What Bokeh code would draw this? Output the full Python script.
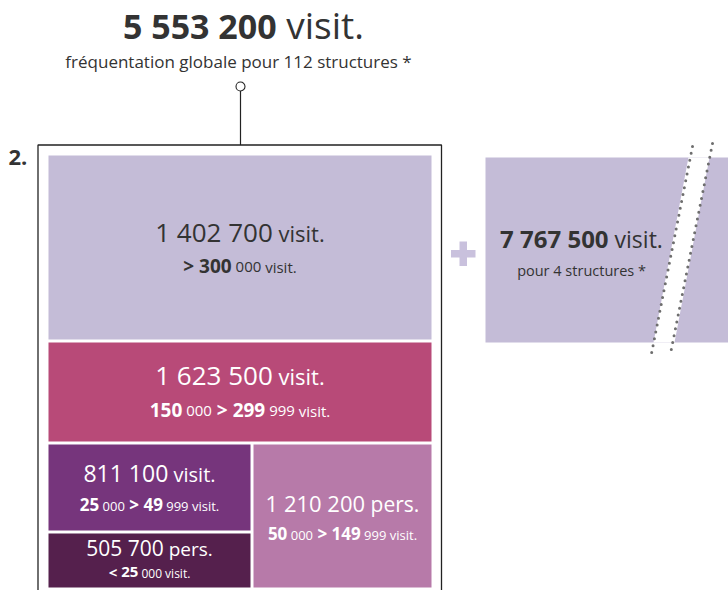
from bokeh.plotting import figure
from bokeh.models import Range1d, ColumnDataSource
from bokeh.core.properties import value
from bokeh.embed import file_html
from bokeh.resources import INLINE

# ---------------- data ----------------
total_visits = 5553200
total_structures = 112
extra_visits = 7767500
extra_structures = 4
section_label = "2."

tile_values = [1402700, 1623500, 811100, 505700, 1210200]
tile_units = ["visit.", "visit.", "visit.", "pers.", "pers."]
range_low = [300000, 150000, 25000, None, 50000]
range_high = [None, 299999, 49999, 25000, 149999]

# ---------------- layout / style (page pixels) ----------------
tile_x0 = [48, 48, 48, 48, 253]
tile_x1 = [431, 431, 250, 250, 431]
tile_y0 = [155, 342, 444, 533, 444]
tile_y1 = [339, 441, 530, 587, 587]
tile_colors = ["#c4bcd7", "#b84a78", "#76357c", "#55204d", "#b77aa9"]
text_colors = ["#333333", "#ffffff", "#ffffff", "#ffffff", "#ffffff"]
main_size = [26, 26, 23, 21, 22]
unit_size = [22, 22, 20, 19, 21]
range_bold = [19, 19, 17, 15, 17]
range_small = [15, 15, 13, 12, 13]
main_base = [242, 385, 482, 556, 512]
range_base = [273, 417, 511, 578, 540]

FONT = "Open Sans"
BASE_K = 0.42  # empirical shift so that the given y is the alphabetic baseline
W_REG = {" ": 532, ".": 545, "*": 1120, "<": 1171, ">": 1171, "a": 1139, "b": 1255,
         "c": 975, "d": 1255, "e": 1149, "f": 694, "g": 1122, "i": 518, "l": 518,
         "n": 1257, "o": 1237, "p": 1255, "q": 1255, "r": 836, "s": 977, "t": 723,
         "u": 1257, "v": 1026, "é": 1149}
W_BOLD = {" ": 532, ".": 586, "<": 1171, ">": 1171, "v": 1128, "i": 620, "s": 1016,
          "t": 776, "p": 1300, "e": 1200, "r": 920}
for d in "0123456789":
    W_REG[d] = 1171
    W_BOLD[d] = 1171


def tw(s, size, bold):
    tbl = W_BOLD if bold else W_REG
    return sum(tbl.get(c, 1150) for c in s) / 2048.0 * size


def fmt(n):
    return f"{n:,}".replace(",", " ")


pieces = dict(x=[], y=[], text=[], size=[], style=[], color=[])


def put(parts, cx, base, color, align="center"):
    total = sum(tw(t, s, b) for t, s, b in parts)
    x = cx - total / 2.0 if align == "center" else cx
    for t, s, b in parts:
        core = t.strip(" ")
        lead = len(t) - len(t.lstrip(" "))
        x += tw(" " * lead, s, b)
        pieces["x"].append(x)
        pieces["y"].append(base - BASE_K * s)
        pieces["text"].append(core)
        pieces["size"].append(f"{s}px")
        pieces["style"].append("bold" if b else "normal")
        pieces["color"].append(color)
        x += tw(t[lead:], s, b)


def bound_parts(n, bs, ss):
    return [(fmt(n // 1000), bs, True), (" " + f"{n % 1000:03d}", ss, False)]


p = figure(width=728, height=590, x_range=Range1d(0, 728), y_range=Range1d(590, 0),
           output_backend="svg", toolbar_location=None, min_border=0)
p.axis.visible = False
p.grid.visible = False
p.outline_line_color = None
p.background_fill_color = "white"
p.border_fill_color = "white"

# connector + frame
p.segment(x0=[240], y0=[90.5], x1=[240], y1=[144.5], line_color="#222222", line_width=1.2)
p.multi_line(xs=[[37.5, 37.5, 441, 441]], ys=[[600, 144.5, 144.5, 600]],
             line_color="#222222", line_width=1.3)
p.scatter(x=[240], y=[86], size=9, marker="circle", fill_color="white",
          line_color="#222222", line_width=1.1)

# tiles
p.quad(left=tile_x0, right=tile_x1, top=tile_y0, bottom=tile_y1,
       fill_color=tile_colors, line_color=None)

for i, v in enumerate(tile_values):
    cx = (tile_x0[i] + tile_x1[i]) / 2.0
    put([(fmt(v), main_size[i], False), (" " + tile_units[i], unit_size[i], False)],
        cx, main_base[i], text_colors[i])
    bs, ss = range_bold[i], range_small[i]
    lo, hi = range_low[i], range_high[i]
    if hi is None:
        parts = [("> ", bs, True)] + bound_parts(lo, bs, ss)
    elif lo is None:
        parts = [("< ", bs, True)] + bound_parts(hi, bs, ss)
    else:
        parts = bound_parts(lo, bs, ss) + [(" > ", bs, True)] + bound_parts(hi, bs, ss)
    parts = parts + [(" visit.", ss, False)]
    put(parts, cx, range_base[i], text_colors[i])

# right tile (4 big structures)
p.quad(left=[485], right=[740], top=[157], bottom=[342], fill_color="#c4bcd7", line_color=None)
p.patch(x=[688, 709, 674, 653], y=[157, 157, 342, 342], fill_color="white", line_color=None)
p.multi_line(xs=[[692, 650], [712, 670]], ys=[[146, 358], [143, 353]], line_color="#6e6e6e",
             line_width=3, line_dash="0 7", line_cap="round")
# plus sign
p.quad(left=[450.5, 459], right=[475, 466.5], top=[249.5, 241], bottom=[257, 265.5],
       fill_color="#c9c1dd", line_color=None)

put([(fmt(extra_visits), 24, True), (" visit.", 23, False)], 581, 248, "#333333")
put([(f"pour {extra_structures} structures *", 14.5, False)], 581, 276, "#333333")

# title
put([(fmt(total_visits), 34, True), (" visit.", 37, False)], 243, 40, "#333333")
put([(f"fréquentation globale pour {total_structures} structures *", 17, False)], 238, 68, "#333333")

# section number
put([(section_label, 22, True)], 8, 166, "#333333", align="left")

src = ColumnDataSource(pieces)
p.text(x="x", y="y", text="text", source=src, text_font=value(FONT), text_font_size="size",
       text_font_style="style", text_color="color", text_align="left", text_baseline="alphabetic")

open("out.html", "w").write(file_html(p, INLINE))
